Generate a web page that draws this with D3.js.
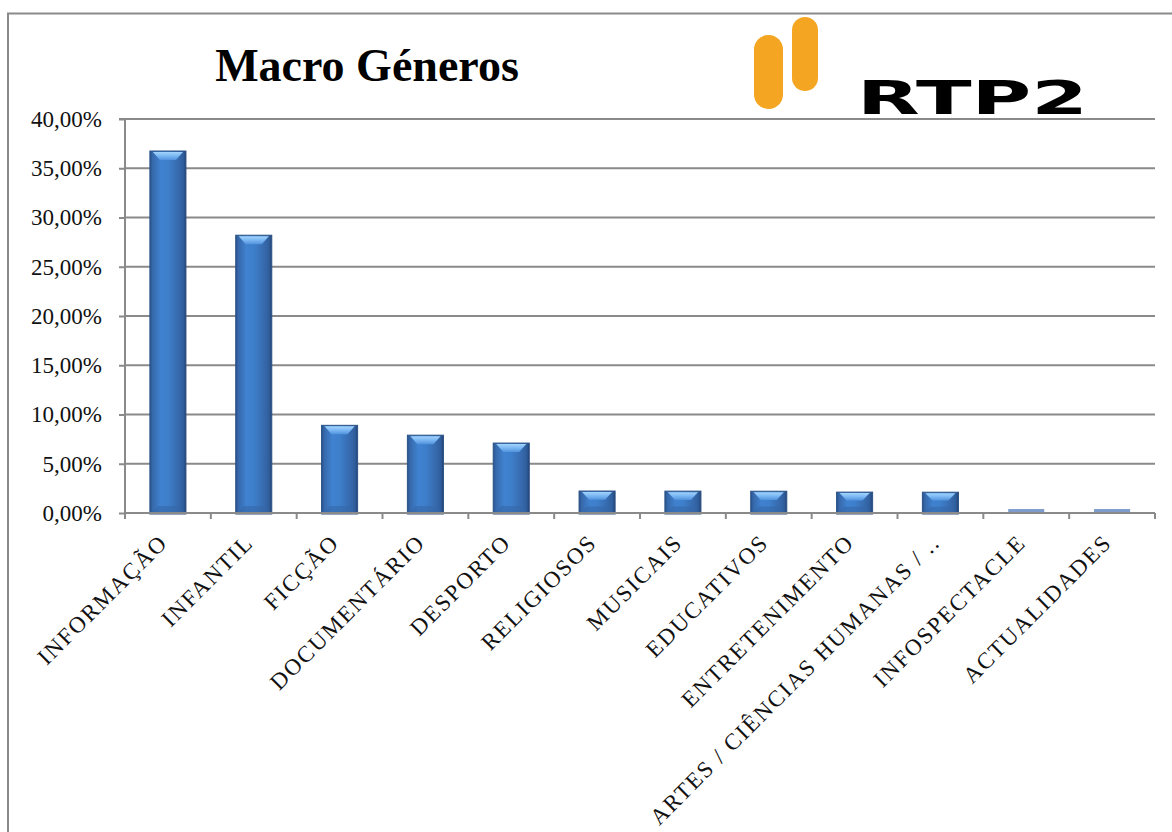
<!DOCTYPE html>
<html>
<head>
<meta charset="utf-8">
<script src="https://cdn.jsdelivr.net/npm/d3@7"></script>
<style>
  html, body { margin: 0; padding: 0; background: #fff; }
  svg { display: block; }
</style>
</head>
<body>
<svg id="chart" width="1172" height="832"></svg>
<script>
const categories = ["INFORMAÇÃO", "INFANTIL", "FICÇÃO", "DOCUMENTÁRIO", "DESPORTO", "RELIGIOSOS",
  "MUSICAIS", "EDUCATIVOS", "ENTRETENIMENTO", "ARTES / CIÊNCIAS HUMANAS / ..", "INFOSPECTACLE", "ACTUALIDADES"];
const values = [0.3675, 0.282, 0.089, 0.079, 0.071, 0.0223, 0.0222, 0.0221, 0.0212, 0.0211, 0.003, 0.003];
const yTicks = [0, 0.05, 0.10, 0.15, 0.20, 0.25, 0.30, 0.35, 0.40];
const yTickLabels = ["0,00%", "5,00%", "10,00%", "15,00%", "20,00%", "25,00%", "30,00%", "35,00%", "40,00%"];
const title = "Macro Géneros";
const logoText = "RTP2";

const svg = d3.select("#chart");
const serif = "'Liberation Serif', 'Times New Roman', serif";
const grey = "#8a8a8a";

// frame
svg.append("rect").attr("x", 8).attr("y", 13.5).attr("width", 1200).attr("height", 900)
  .attr("fill", "none").attr("stroke", grey).attr("stroke-width", 2);

const pL = 125, pR = 1155, pT = 119, pB = 513;
const x = d3.scaleBand().domain(categories).range([pL, pR]).paddingInner(0.58).paddingOuter(0.29);
const y = d3.scaleLinear().domain([0, 0.40]).range([pB, pT]);

// defs
const defs = svg.append("defs");
const gBar = defs.append("linearGradient").attr("id", "barGrad").attr("x1", 0).attr("x2", 1).attr("y1", 0).attr("y2", 0);
[["0%", "#28518a"], ["7%", "#3668aa"], ["30%", "#4082d0"], ["50%", "#3e7fcb"], ["80%", "#3669ac"], ["93%", "#2f5d9b"], ["100%", "#244272"]]
  .forEach(([o, c]) => gBar.append("stop").attr("offset", o).attr("stop-color", c));
const gTop = defs.append("linearGradient").attr("id", "topGrad").attr("x1", 0).attr("x2", 0).attr("y1", 0).attr("y2", 1);
[["0%", "#a2d4fd"], ["45%", "#7db9f3"], ["100%", "#5192de"]]
  .forEach(([o, c]) => gTop.append("stop").attr("offset", o).attr("stop-color", c));

// gridlines
svg.append("g").selectAll("line").data(yTicks.slice(1)).join("line")
  .attr("x1", pL).attr("x2", pR).attr("y1", d => y(d)).attr("y2", d => y(d))
  .attr("stroke", grey).attr("stroke-width", 2);

// y axis
const yAxis = d3.axisLeft(y).tickValues(yTicks).tickSize(6).tickPadding(17)
  .tickFormat((d, i) => yTickLabels[i]);
const yg = svg.append("g").attr("transform", `translate(${pL},0)`).call(yAxis);
yg.select(".domain").attr("stroke", grey).attr("stroke-width", 2).attr("d", `M-6,${pT}H0V${pB}`);
yg.selectAll(".tick line").attr("stroke", grey).attr("stroke-width", 2);
yg.selectAll(".tick text").attr("font-family", serif).attr("font-size", 23).attr("fill", "#111");

// bars
const bars = svg.append("g").selectAll("g").data(categories).join("g");
bars.each(function(c, i) {
  const g = d3.select(this);
  const bx = x(c), bw = x.bandwidth(), by = y(values[i]), bh = pB - by;
  if (bh < 6) {
    g.append("rect").attr("x", bx).attr("y", by - 1).attr("width", bw).attr("height", bh + 1)
      .attr("fill", "#7d9ccb");
    return;
  }
  g.append("rect").attr("x", bx).attr("y", by).attr("width", bw).attr("height", bh + 1)
    .attr("fill", "url(#barGrad)").attr("stroke", "#2b5286").attr("stroke-width", 1);
  const d = Math.min(9, bh * 0.4), ins = 3;
  g.append("path")
    .attr("d", `M${bx + ins},${by + 1}H${bx + bw - ins}L${bx + bw - 10},${by + d}H${bx + 10}Z`)
    .attr("fill", "url(#topGrad)");
  const db = Math.min(7, bh * 0.3);
  g.append("path")
    .attr("d", `M${bx + 2},${pB}H${bx + bw - 2}L${bx + bw - 8},${pB - db}H${bx + 8}Z`)
    .attr("fill", "#3568a8").attr("opacity", 0.6);
});

// x axis
const xAxisLine = svg.append("g");
xAxisLine.append("line").attr("x1", pL).attr("x2", pR).attr("y1", pB).attr("y2", pB)
  .attr("stroke", grey).attr("stroke-width", 2);
const edges = d3.range(categories.length + 1).map(k => pL + k * x.step());
xAxisLine.selectAll("line.tk").data(edges).join("line").attr("class", "tk")
  .attr("x1", d => d).attr("x2", d => d).attr("y1", pB).attr("y2", pB + 6)
  .attr("stroke", grey).attr("stroke-width", 2);

// x labels
svg.append("g").selectAll("text").data(categories).join("text")
  .attr("transform", c => `translate(${x(c) + x.bandwidth() / 2 + 1},${pB + 31}) rotate(-45)`)
  .attr("text-anchor", "end")
  .attr("font-family", serif).attr("font-size", 23).attr("letter-spacing", 1.8).attr("fill", "#111")
  .text(c => c);

// title
svg.append("text").attr("x", 367).attr("y", 81).attr("text-anchor", "middle")
  .attr("font-family", serif).attr("font-weight", "bold").attr("font-size", 46).attr("fill", "#000")
  .text(title);

// logo
const logo = svg.append("g");
logo.append("rect").attr("x", 754).attr("y", 35).attr("width", 29).attr("height", 74).attr("rx", 14.5).attr("fill", "#f4a623");
logo.append("rect").attr("x", 792).attr("y", 17).attr("width", 26).attr("height", 74).attr("rx", 13).attr("fill", "#f4a623");
logo.append("text").attr("x", 857).attr("y", 114)
  .attr("font-family", "'DejaVu Sans', sans-serif").attr("font-weight", "bold").attr("font-size", 47)
  .attr("textLength", 231).attr("lengthAdjust", "spacingAndGlyphs").attr("fill", "#000")
  .text(logoText);
</script>
</body>
</html>
